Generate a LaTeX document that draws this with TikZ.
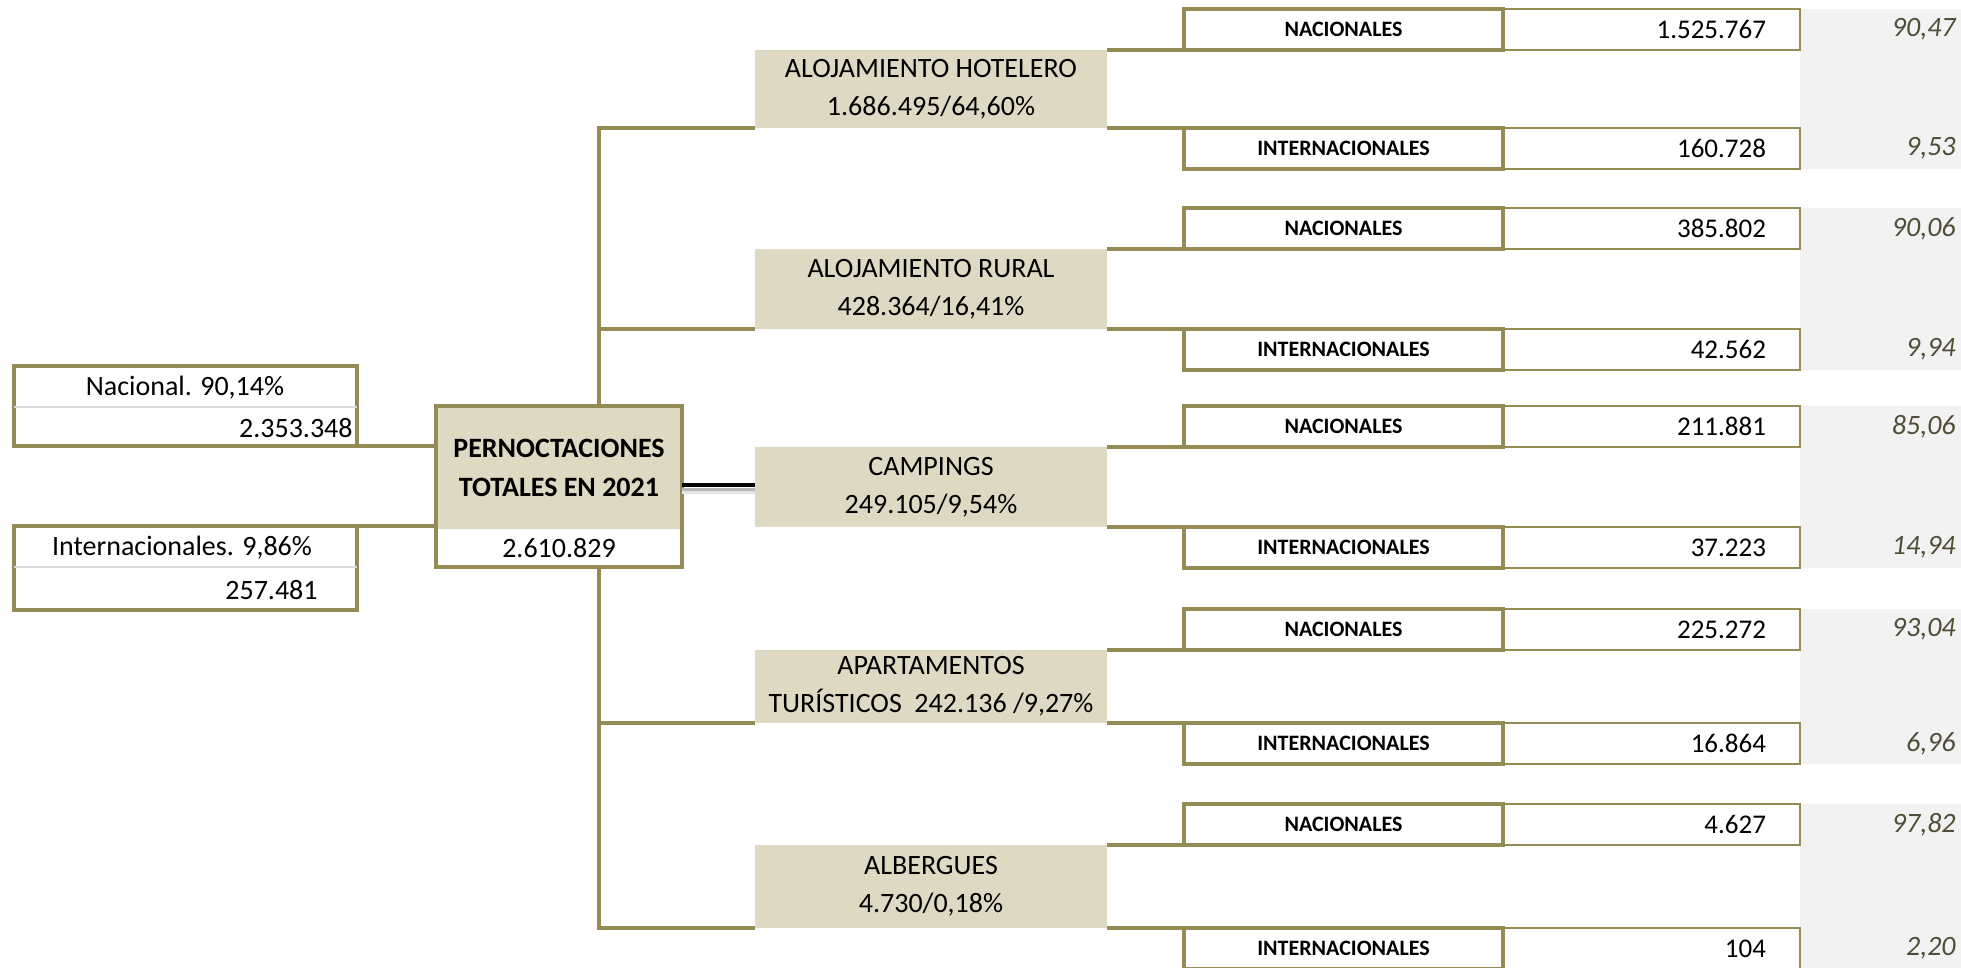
\documentclass[tikz,border=0pt]{standalone}
\usepackage{fontspec}
\setmainfont{Carlito}
\definecolor{olive}{RGB}{148,138,84}
\definecolor{tanfill}{RGB}{221,217,195}
\definecolor{pctbg}{RGB}{242,242,242}
\definecolor{pcttext}{RGB}{80,77,55}
\definecolor{divgray}{RGB}{217,217,217}
\begin{document}
\begin{tikzpicture}[x=1pt,y=-1pt,
  olivebox/.style={draw=olive, line width=1.75pt, inner sep=0pt, outer sep=0pt, rectangle},
  catbox/.style={fill=tanfill, inner sep=0pt, outer sep=0pt, minimum width=176pt, align=center, font=\fontsize{14}{19}\selectfont},
  lblbox/.style={draw=olive, line width=1.75pt, fill=white, minimum width=159.5pt, minimum height=20.5pt, inner sep=0pt, outer sep=0pt, font=\bfseries\fontsize{11}{13}\selectfont},
  valbox/.style={draw=olive, line width=1pt, fill=white, minimum width=148.5pt, minimum height=20.5pt, inner sep=0pt, outer sep=0pt, text width=114.5pt, align=right, font=\fontsize{13.5}{16}\selectfont},
  pct/.style={inner sep=0pt, text=pcttext, font=\itshape\fontsize{14}{16}\selectfont},
  txt/.style={inner sep=0pt, font=\fontsize{14}{17}\selectfont},
  btxt/.style={inner sep=0pt, font=\bfseries\fontsize{14}{17}\selectfont},
  conn/.style={draw=olive, line width=1.75pt},
  divider/.style={draw=divgray, line width=1pt}]
\clip (0,0) rectangle (980.5,484);
\fill[white] (0,0) rectangle (980.5,484);

% trunk coordinates
\coordinate (trunktop) at (299.5,64);
\coordinate (trunkbot) at (299.5,464);

% category boxes
\node[catbox, minimum height=39pt, anchor=north west] (hot) at (377.5,25) {ALOJAMIENTO HOTELERO\\1.686.495/64,60\%};
\node[catbox, minimum height=40pt, anchor=north west] (rur) at (377.5,124.5) {ALOJAMIENTO RURAL\\428.364/16,41\%};
\node[catbox, minimum height=40pt, anchor=north west] (cam) at (377.5,223.5) {CAMPINGS\\249.105/9,54\%};
\node[catbox, minimum height=36.5pt, anchor=north west] (apa) at (377.5,325) {APARTAMENTOS\\TURÍSTICOS\ \ 242.136 /9,27\%};
\node[catbox, minimum height=41.5pt, anchor=north west] (alb) at (377.5,422.5) {ALBERGUES\\4.730/0,18\%};

% trunk and branches
\draw[conn] (hot.south west) -- (trunktop) -- (trunkbot) -- (alb.south west);
\draw[conn] (rur.south west) -- (rur.south west -| trunktop);
\draw[conn] (apa.south west) -- (apa.south west -| trunktop);

% left boxes
\node[olivebox, minimum width=171.5pt, minimum height=40pt, anchor=north west] (nac) at (7,183) {};
\draw[divider] (nac.west |- 0,203.5) -- (nac.east |- 0,203.5);
\node[txt] (nact) at (92.5,194) {Nacional. 90,14\%};
\node[txt, anchor=east] (nacv) at (176.5,214) {2.353.348};
\node[olivebox, minimum width=171.5pt, minimum height=42pt, anchor=north west] (int) at (7,263) {};
\draw[divider] (int.west |- 0,283.5) -- (int.east |- 0,283.5);
\node[txt] (intt) at (91,274) {Internacionales. 9,86\%};
\node[txt, anchor=east] (intv) at (159,295) {257.481};

% central box
\node[olivebox, fill=white, minimum width=123pt, minimum height=80.5pt, anchor=north west] (tot) at (218,203) {};
\fill[tanfill] (tot.north west) rectangle (tot.east |- 0,264.5);
\draw[olive, line width=1.75pt] (tot.north west) rectangle (tot.south east);
\node[btxt] (tot1) at (279.5,224) {PERNOCTACIONES};
\node[btxt] (tot2) at (279.5,243.5) {TOTALES EN 2021};
\node[txt] (tot3) at (279.5,274) {2.610.829};

% left connectors
\draw[conn] (nac.south east) -- (nac.south east -| tot.west);
\draw[conn] (int.north east) -- (int.north east -| tot.west);

% black connector to campings with soft shadow
\draw[black!10, line width=1.5pt] (tot.east |- 0,246) -- (cam.west |- 0,246);
\draw[black!28, line width=1.5pt] (tot.east |- 0,244.5) -- (cam.west |- 0,244.5);
\draw[black, line width=2pt] (tot.east |- 0,242.5) -- (cam.west |- 0,242.5);

% table, group 1
\fill[pctbg] (900,4.5) rectangle (980.5,84.5);
\node[valbox, anchor=west] (n1v) at (751.5,14.75) {1.525.767};
\node[lblbox, anchor=south west] (n1l) at (592,25) {NACIONALES};
\node[valbox, anchor=west] (i1v) at (751.5,74.25) {160.728};
\node[lblbox, anchor=north west] (i1l) at (592,64) {INTERNACIONALES};
\node[pct, anchor=east] (p1n) at (978,14.75) {90,47};
\node[pct, anchor=east] (p1i) at (978,74.25) {9,53};
\draw[conn] (hot.north east) -- (n1l.south west);
\draw[conn] (hot.south east) -- (i1l.north west);

% group 2
\fill[pctbg] (900,104) rectangle (980.5,185);
\node[valbox, anchor=west] (n2v) at (751.5,114.25) {385.802};
\node[lblbox, anchor=south west] (n2l) at (592,124.5) {NACIONALES};
\node[valbox, anchor=west] (i2v) at (751.5,174.75) {42.562};
\node[lblbox, anchor=north west] (i2l) at (592,164.5) {INTERNACIONALES};
\node[pct, anchor=east] (p2n) at (978,114.25) {90,06};
\node[pct, anchor=east] (p2i) at (978,174.75) {9,94};
\draw[conn] (rur.north east) -- (n2l.south west);
\draw[conn] (rur.south east) -- (i2l.north west);

% group 3
\fill[pctbg] (900,203) rectangle (980.5,284);
\node[valbox, anchor=west] (n3v) at (751.5,213.25) {211.881};
\node[lblbox, anchor=south west] (n3l) at (592,223.5) {NACIONALES};
\node[valbox, anchor=west] (i3v) at (751.5,273.75) {37.223};
\node[lblbox, anchor=north west] (i3l) at (592,263.5) {INTERNACIONALES};
\node[pct, anchor=east] (p3n) at (978,213.25) {85,06};
\node[pct, anchor=east] (p3i) at (978,273.75) {14,94};
\draw[conn] (cam.north east) -- (n3l.south west);
\draw[conn] (cam.south east) -- (i3l.north west);

% group 4
\fill[pctbg] (900,304.5) rectangle (980.5,382);
\node[valbox, anchor=west] (n4v) at (751.5,314.75) {225.272};
\node[lblbox, anchor=south west] (n4l) at (592,325) {NACIONALES};
\node[valbox, anchor=west] (i4v) at (751.5,371.75) {16.864};
\node[lblbox, anchor=north west] (i4l) at (592,361.5) {INTERNACIONALES};
\node[pct, anchor=east] (p4n) at (978,314.75) {93,04};
\node[pct, anchor=east] (p4i) at (978,371.75) {6,96};
\draw[conn] (apa.north east) -- (n4l.south west);
\draw[conn] (apa.south east) -- (i4l.north west);

% group 5
\fill[pctbg] (900,402) rectangle (980.5,486);
\node[valbox, anchor=west] (n5v) at (751.5,412.25) {4.627};
\node[lblbox, anchor=south west] (n5l) at (592,422.5) {NACIONALES};
\node[valbox, anchor=west] (i5v) at (751.5,474.25) {104};
\node[lblbox, anchor=north west] (i5l) at (592,464) {INTERNACIONALES};
\node[pct, anchor=east] (p5n) at (978,412.25) {97,82};
\node[pct, anchor=east] (p5i) at (978,474.25) {2,20};
\draw[conn] (alb.north east) -- (n5l.south west);
\draw[conn] (alb.south east) -- (i5l.north west);
\end{tikzpicture}
\end{document}
